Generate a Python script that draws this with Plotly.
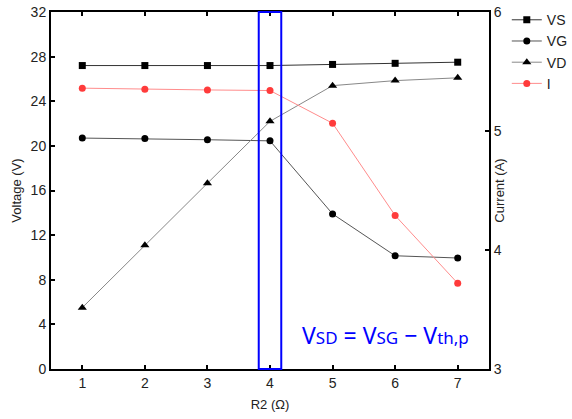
import plotly.graph_objects as go

r2 = [1, 2, 3, 4, 5, 6, 7]
vs = [27.2, 27.2, 27.2, 27.2, 27.3, 27.4, 27.5]
vg = [20.7, 20.65, 20.55, 20.45, 13.9, 10.15, 9.95]
vd = [5.5, 11.1, 16.65, 22.2, 25.4, 25.85, 26.1]
cur = [5.36, 5.35, 5.345, 5.34, 5.065, 4.29, 3.72]

x_ticks = [1, 2, 3, 4, 5, 6, 7]
v_ticks = [0, 4, 8, 12, 16, 20, 24, 28, 32]
i_ticks = [3, 4, 5, 6]

FONT = "Liberation Sans, Arial, sans-serif"

fig = go.Figure()
fig.add_trace(go.Scatter(x=r2, y=vs, name="VS", mode="lines+markers",
                         line=dict(color="#333333", width=1),
                         marker=dict(symbol="square", size=7, color="black")))
fig.add_trace(go.Scatter(x=r2, y=vg, name="VG", mode="lines+markers",
                         line=dict(color="#555555", width=1),
                         marker=dict(symbol="circle", size=7, color="black")))
fig.add_trace(go.Scatter(x=r2, y=vd, name="VD", mode="lines+markers",
                         line=dict(color="#888888", width=1),
                         marker=dict(symbol="triangle-up", size=8, color="black")))
fig.add_trace(go.Scatter(x=r2, y=cur, name="I", mode="lines+markers", yaxis="y2",
                         line=dict(color="#ff8c8c", width=1),
                         marker=dict(symbol="circle", size=7, color="#ff3b3b")))

fig.add_shape(type="rect", xref="x", yref="paper", x0=3.82, x1=4.18, y0=0, y1=1,
              line=dict(color="#0000ff", width=2), fillcolor="rgba(0,0,0,0)")

sub = "<span style='font-size:17px'>%s</span>"
fig.add_annotation(xref="paper", yref="paper", x=0.763, y=0.095,
                   xanchor="center", yanchor="middle",
                   text="V" + sub % "SD" + " = V" + sub % "SG" + " − V" + sub % "th,p",
                   showarrow=False, font=dict(size=23, color="#0000ff", family="Noto Sans, sans-serif"))

axis_common = dict(showline=True, linecolor="black", linewidth=2, ticks="inside",
                   ticklen=4, tickwidth=2, tickcolor="black", showgrid=False,
                   zeroline=False, automargin=False,
                   tickfont=dict(size=14, color="#222222", family=FONT))

fig.update_layout(
    width=572, height=419,
    margin=dict(l=51, r=83, t=12, b=50, autoexpand=False),
    paper_bgcolor="white", plot_bgcolor="white",
    font=dict(family=FONT, color="#222222"),
    xaxis=dict(range=[0.5, 7.5], tickvals=x_ticks, mirror="ticks",
               title=dict(text="R2 (Ω)", font=dict(size=13), standoff=10), **axis_common),
    yaxis=dict(range=[0, 32], tickvals=v_ticks,
               title=dict(text="Voltage (V)", font=dict(size=13), standoff=6), **axis_common),
    yaxis2=dict(range=[3, 6], tickvals=i_ticks, overlaying="y", side="right",
                title=dict(text="Current (A)", font=dict(size=13), standoff=20), **axis_common),
    showlegend=True,
    legend=dict(xref="container", yref="container", x=0.886, y=0.99,
                xanchor="left", yanchor="top", itemwidth=30,
                font=dict(size=14, family=FONT), tracegroupgap=0,
                bgcolor="rgba(0,0,0,0)"),
)

fig.write_html("out.html", config={"displayModeBar": False},
               post_script="document.body.style.margin='0';document.body.style.overflow='hidden';")
